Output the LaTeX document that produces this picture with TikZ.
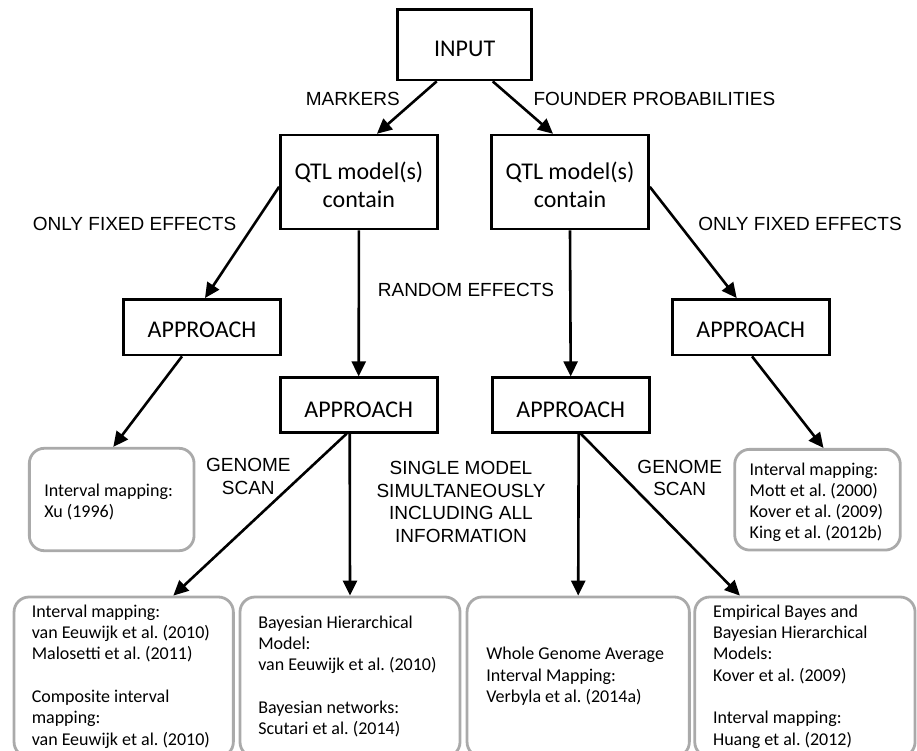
\documentclass[tikz,border=0pt]{standalone}
\usepackage{fontspec}
\setmainfont{Carlito}
\newfontfamily\labfont{Liberation Sans}
\usetikzlibrary{arrows.meta}
\definecolor{leafgray}{RGB}{170,170,170}
\newcommand{\lowertext}[2]{\raisebox{-#1}[\height][\depth]{#2}}
\newcommand{\leaftext}[2]{\makebox[#1][l]{\begin{tabular}{@{}l@{}}#2\end{tabular}}}
\frenchspacing
\begin{document}
\begin{tikzpicture}[x=1pt,y=-1pt,
  box/.style={draw=black, line width=2.6pt, fill=white, inner sep=0pt, minimum width=157pt, font=\fontsize{24}{28}\selectfont},
  leaf/.style={draw=leafgray, line width=2.8pt, rounded corners=15pt, inner sep=0pt, font=\fontsize{18}{21.3}\selectfont\frenchspacing},
  lab/.style={inner sep=0pt, align=center, font=\labfont\fontsize{19}{22.4}\selectfont},
  arr/.style={line width=2.6pt, -{Triangle[length=15pt,width=14pt]}}
]
\useasboundingbox (0,0) rectangle (917,751);
\clip (0,0) rectangle (917,751);

% boxes
\node[box, minimum width=134pt, minimum height=70.7pt] (in) at (464.7,44.7) {\lowertext{4.5pt}{INPUT}};
\node[box, minimum height=94pt] (qa) at (358.9,182.1) {\lowertext{6.3pt}{\begin{tabular}{@{}c@{}}QTL model(s)\\contain\end{tabular}}};
\node[box, minimum height=94pt] (qb) at (570,182.1) {\lowertext{6.3pt}{\begin{tabular}{@{}c@{}}QTL model(s)\\contain\end{tabular}}};
\node[box, minimum height=55.7pt] (aa) at (202,327.2) {\lowertext{3pt}{APPROACH}};
\node[box, minimum height=55.7pt] (ab) at (750.7,327.2) {\lowertext{3pt}{APPROACH}};
\node[box, minimum height=54.6pt] (ma) at (358.7,405) {\lowertext{4.5pt}{APPROACH}};
\node[box, minimum height=54.6pt] (mb) at (570.7,405) {\lowertext{4.5pt}{APPROACH}};

% leaves
\node[leaf, minimum width=164.7pt, minimum height=102.4pt] (ltl) at (111.7,499.5)
  {\lowertext{3.5pt}{\leaftext{134.7pt}{Interval mapping:\\Xu (1996)}}};
\node[leaf, minimum width=165.6pt, minimum height=100.7pt] (ltr) at (817.5,499.7)
  {\lowertext{3pt}{\leaftext{135.6pt}{Interval mapping:\\Mott et al. (2000)\\Kover et al. (2009)\\King et al. (2012b)}}};
\node[leaf, minimum width=219.3pt, minimum height=160pt] (l1) at (123.7,677)
  {\leaftext{183.9pt}{Interval mapping:\\van Eeuwijk et al. (2010)\\Malosetti et al. (2011)\\ \\Composite interval\\mapping:\\van Eeuwijk et al. (2010)}};
\node[leaf, minimum width=220pt, minimum height=160pt] (l2) at (350,677)
  {\leaftext{183.4pt}{Bayesian Hierarchical\\Model:\\van Eeuwijk et al. (2010)\\ \\Bayesian networks:\\Scutari et al. (2014)}};
\node[leaf, minimum width=222.3pt, minimum height=160pt] (l3) at (578.2,677)
  {\leaftext{183.7pt}{Whole Genome Average\\Interval Mapping:\\Verbyla et al. (2014a)}};
\node[leaf, minimum width=220.3pt, minimum height=160pt] (l4) at (804.9,677)
  {\leaftext{183.7pt}{Empirical Bayes and\\Bayesian Hierarchical\\Models:\\Kover et al. (2009)\\ \\Interval mapping:\\Huang et al. (2012)}};

% labels
\node[lab, anchor=base east] (lm) at (400,106) {MARKERS};
\node[lab, anchor=base west] (lf) at (533.3,106) {FOUNDER PROBABILITIES};
\node[lab, anchor=base] (lofa) at (134.5,230.8) {ONLY FIXED EFFECTS};
\node[lab, anchor=base] (lofb) at (800,230.8) {ONLY FIXED EFFECTS};
\node[lab, anchor=base] (lre) at (466,296) {RANDOM EFFECTS};
\node[lab, anchor=north] (lgsa) at (248.3,458.2) {GENOME\\SCAN};
\node[lab, anchor=north] (lsm) at (461,461.5) {SINGLE MODEL\\SIMULTANEOUSLY\\INCLUDING ALL\\INFORMATION};
\node[lab, anchor=north] (lgsb) at (679.7,459.9) {GENOME\\SCAN};

% connectors
\draw[arr] ([xshift=-28pt]in.south) -- ([xshift=18pt]qa.north);
\draw[arr] ([xshift=28pt]in.south) -- ([xshift=-17pt]qb.north);
\draw[arr] ([yshift=-4.7pt]qa.west) -- ([xshift=3pt]aa.north);
\draw[arr] ([yshift=-4.7pt]qb.east) -- ([xshift=-14pt]ab.north);
\draw[arr] (qa.south) -- (ma.north);
\draw[arr] (qb.south) -- (mb.north);
\draw[arr] ([xshift=-20pt]aa.south) -- ([xshift=1.6pt]ltl.north);
\draw[arr] ([xshift=1.3pt]ab.south) -- ([xshift=6pt]ltr.north);
\draw[arr] ([xshift=-12pt]ma.south) -- ([xshift=49.6pt]l1.north);
\draw[arr] ([xshift=-9pt]ma.south) -- (l2.north);
\draw[arr] ([xshift=8pt]mb.south) -- (l3.north);
\draw[arr] ([xshift=10pt]mb.south) -- ([xshift=-65pt]l4.north);
\end{tikzpicture}
\end{document}
